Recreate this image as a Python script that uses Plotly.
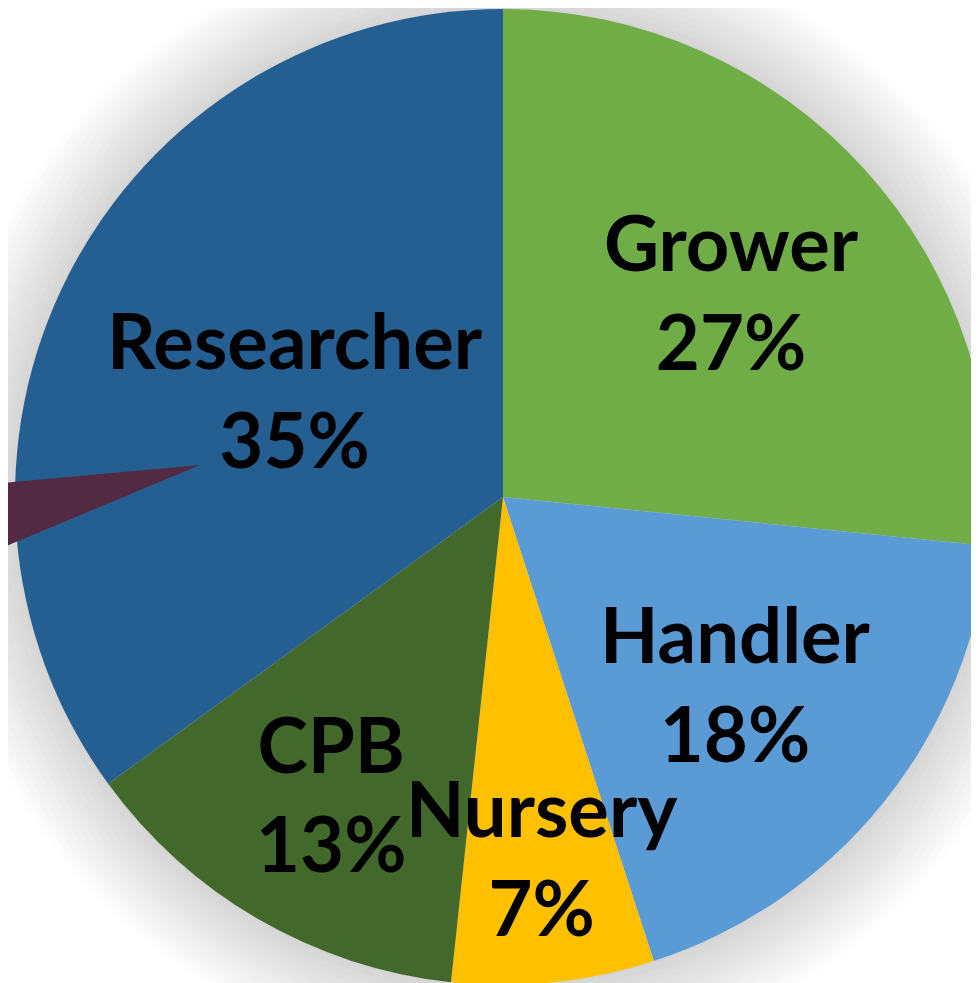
import plotly.graph_objects as go

# ---- data ----
categories = ["Grower", "Handler", "Nursery", "CPB", "Researcher"]
shares = [26.6, 18.4, 6.7, 13.3, 35.0]
pct_labels = ["27%", "18%", "7%", "13%", "35%"]

# ---- style ----
colors = ["#70AD47", "#5B9BD5", "#FFC000", "#43682B", "#255E91"]
W, H = 1000, 990
OFF = 8                              # page body margin
cx, cy, r = 503, 497, 488           # pie centre / radius in screen px
label_px = {                         # label block centres in screen px
    "Grower": (731, 291),
    "Handler": (735, 683),
    "Nursery": (542, 857),
    "CPB": (331, 793),
    "Researcher": (295, 389),
}

def px(x):
    return (x - OFF) / W

def py(y):
    return 1 - (y - OFF) / H

fig = go.Figure(go.Pie(
    labels=categories,
    values=shares,
    sort=False,
    direction="clockwise",
    rotation=0,
    marker=dict(colors=colors, line=dict(width=0)),
    textinfo="none",
    hoverinfo="label+percent",
    domain=dict(x=[px(cx - r), px(cx + r)], y=[py(cy + r), py(cy - r)]),
    showlegend=False,
))

# soft shadow around the pie
shapes = []
for i in range(14):
    rr = r + 3 + i * 6
    shapes.append(dict(
        type="circle", xref="paper", yref="paper", layer="below",
        x0=px(cx - rr), x1=px(cx + rr), y0=py(cy + rr), y1=py(cy - rr),
        fillcolor="rgba(0,0,0,0.011)", line=dict(width=0),
    ))

# callout pointer from the (cropped) label on the left
shapes.append(dict(
    type="path", xref="paper", yref="paper", layer="above",
    path=f"M {px(200)},{py(465)} L {px(-20)},{py(485)} L {px(-20)},{py(557)} Z",
    fillcolor="#522A42", line=dict(width=0),
))

annotations = []
for cat, pct in zip(categories, pct_labels):
    x, y = label_px[cat]
    annotations.append(dict(
        x=px(x), y=py(y), xref="paper", yref="paper",
        text=f"{cat}<br>{pct}", showarrow=False,
        xanchor="center", yanchor="middle", align="center",
        font=dict(family="Lato", size=76, color="black", weight="bold"),
    ))

fig.update_layout(
    width=W, height=H,
    margin=dict(l=0, r=0, t=0, b=0),
    paper_bgcolor="white",
    plot_bgcolor="white",
    shapes=shapes,
    annotations=annotations,
)

fig.write_html("out.html")
